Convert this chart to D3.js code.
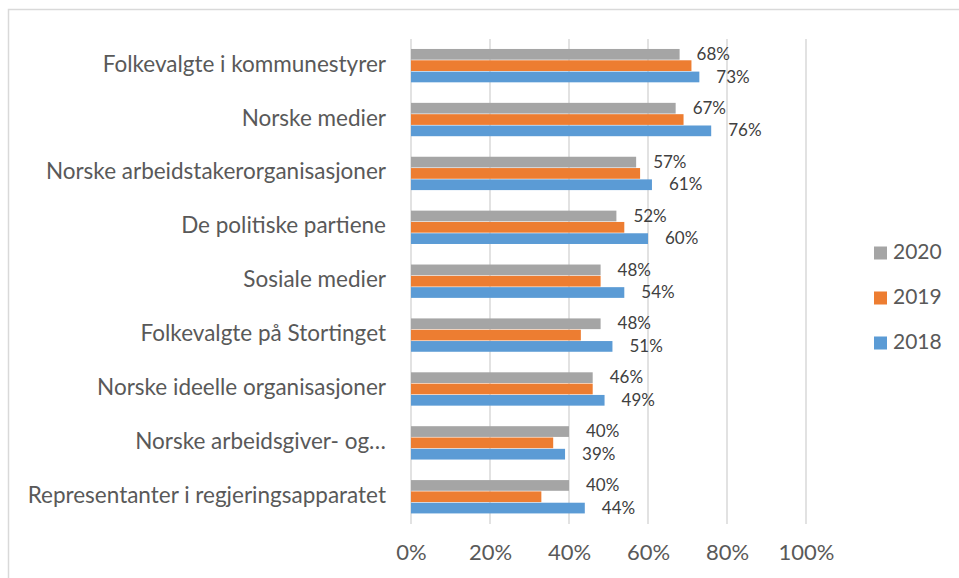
<!DOCTYPE html>
<html lang="no">
<head>
<meta charset="UTF-8">
<style>
body { margin: 0; background: #fff; font-family: Lato, "Open Sans", sans-serif; }
.cat-label { fill: #595959; font-size: 22.5px; }
.tick-label { fill: #595959; font-size: 22px; }
.value-label { fill: #404040; font-size: 17px; }
.legend-label { fill: #595959; font-size: 21px; }
.grid line { stroke: #d9d9d9; stroke-width: 1.5px; }
</style>
<title>chart</title>
</head>
<body>
<div id="wrapper"></div>
<script src="https://cdnjs.cloudflare.com/ajax/libs/d3/7.8.5/d3.min.js"></script>
<script>
// DATA
const categories = [
  "Folkevalgte i kommunestyrer",
  "Norske medier",
  "Norske arbeidstakerorganisasjoner",
  "De politiske partiene",
  "Sosiale medier",
  "Folkevalgte på Stortinget",
  "Norske ideelle organisasjoner",
  "Norske arbeidsgiver- og…",
  "Representanter i regjeringsapparatet"
]
const years = ["2020", "2019", "2018"]
const values2020 = [68, 67, 57, 52, 48, 48, 46, 40, 40]
const values2019 = [71, 69, 58, 54, 48, 43, 46, 36, 33]
const values2018 = [73, 76, 61, 60, 54, 51, 49, 39, 44]
const tickValues = [0, 20, 40, 60, 80, 100]
// only 2020 and 2018 carry data labels in the original
const labelled = { "2020": true, "2019": false, "2018": true }

const seriesValues = { "2020": values2020, "2019": values2019, "2018": values2018 }
const colors = { "2020": "#a5a5a5", "2019": "#ed7d31", "2018": "#5b9bd5" }

const dimensions = {
  width: 959,
  height: 578,
  margin: { top: 39, right: 153, bottom: 54, left: 411 }
}
dimensions.boundedWidth = dimensions.width - dimensions.margin.left - dimensions.margin.right
dimensions.boundedHeight = dimensions.height - dimensions.margin.top - dimensions.margin.bottom

const svg = d3.select("#wrapper").append("svg")
  .attr("width", dimensions.width)
  .attr("height", dimensions.height)

// outer frame (only left and top edges visible in the crop)
svg.append("rect")
  .attr("x", 8.5).attr("y", 9.5)
  .attr("width", dimensions.width + 10).attr("height", dimensions.height + 10)
  .attr("fill", "none")
  .attr("stroke", "#d9d9d9")
  .attr("stroke-width", 1.5)

const bounds = svg.append("g")
  .attr("transform", `translate(${dimensions.margin.left},${dimensions.margin.top})`)

// SCALES
const xScale = d3.scaleLinear().domain([0, 100]).range([0, dimensions.boundedWidth])
const yScale = d3.scaleBand()
  .domain(categories)
  .range([0, dimensions.boundedHeight])
  .paddingInner(0.37)
  .paddingOuter(0.185)
const barScale = d3.scaleBand().domain(years).range([0, yScale.bandwidth()])

// gridlines
bounds.append("g").attr("class", "grid")
  .selectAll("line")
  .data(tickValues)
  .join("line")
    .attr("x1", d => xScale(d)).attr("x2", d => xScale(d))
    .attr("y1", 0).attr("y2", dimensions.boundedHeight)

// bars
const groups = bounds.selectAll(".group")
  .data(categories)
  .join("g")
    .attr("class", "group")
    .attr("transform", d => `translate(0,${yScale(d)})`)

groups.selectAll("rect")
  .data((d, i) => years.map(y => ({ year: y, value: seriesValues[y][i] })))
  .join("rect")
    .attr("x", 0)
    .attr("y", d => barScale(d.year))
    .attr("width", d => xScale(d.value))
    .attr("height", barScale.bandwidth() - 0.6)
    .attr("fill", d => colors[d.year])

groups.selectAll(".value-label")
  .data((d, i) => years.filter(y => labelled[y]).map(y => ({ year: y, value: seriesValues[y][i] })))
  .join("text")
    .attr("class", "value-label")
    .attr("x", d => xScale(d.value) + 17)
    .attr("y", d => barScale(d.year) + barScale.bandwidth() / 2 + 1)
    .attr("dominant-baseline", "middle")
    .text(d => d.value + "%")

// category labels
bounds.selectAll(".cat-label")
  .data(categories)
  .join("text")
    .attr("class", "cat-label")
    .attr("x", -25)
    .attr("y", d => yScale(d) + yScale.bandwidth() / 2)
    .attr("text-anchor", "end")
    .attr("dominant-baseline", "middle")
    .text(d => d)

// x axis labels
const xAxis = d3.axisBottom(xScale)
  .tickValues(tickValues)
  .tickFormat(d => d + "%")
  .tickSize(0)
  .tickPadding(20)
const xAxisGroup = bounds.append("g")
  .attr("transform", `translate(0,${dimensions.boundedHeight})`)
  .call(xAxis)
xAxisGroup.select(".domain").remove()
xAxisGroup.selectAll("text")
  .attr("class", "tick-label")
  .attr("fill", null)
xAxisGroup.attr("font-size", null).attr("font-family", null)

// legend
const legend = svg.append("g")
  .attr("transform", "translate(874,253)")
const legendItems = legend.selectAll("g")
  .data(years)
  .join("g")
    .attr("transform", (d, i) => `translate(0,${i * 45})`)
legendItems.append("rect")
  .attr("x", 0).attr("y", -6.5)
  .attr("width", 13).attr("height", 13)
  .attr("fill", d => colors[d])
legendItems.append("text")
  .attr("class", "legend-label")
  .attr("x", 19)
  .attr("y", 1)
  .attr("dominant-baseline", "middle")
  .text(d => d)
</script>
</body>
</html>
